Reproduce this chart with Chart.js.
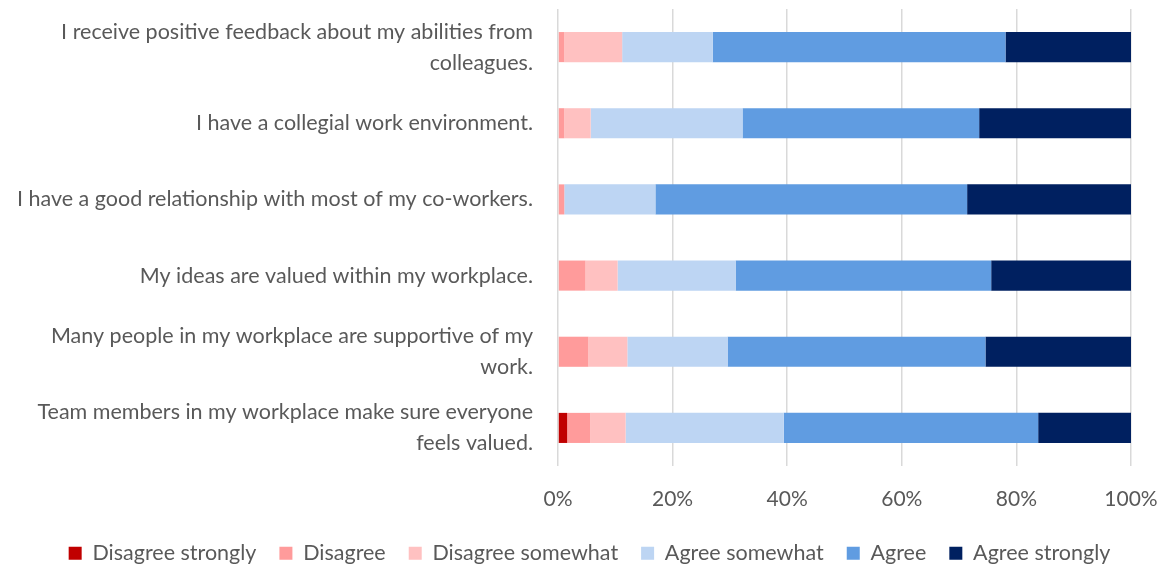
<!DOCTYPE html>
<html>
<head>
<meta charset="utf-8">
<script src="https://cdn.jsdelivr.net/npm/chart.js@4/dist/chart.umd.min.js"></script>
<style>
  html, body { margin: 0; padding: 0; background: #fff; }
  #chartArea { width: 1166px; height: 567px; }
</style>
</head>
<body>
<div id="chartArea"><canvas id="chartWork"></canvas></div>
<script>
const statements = [
  ['I receive positive feedback about my abilities from', 'colleagues.'],
  'I have a collegial work environment.',
  'I have a good relationship with most of my co-workers.',
  'My ideas are valued within my workplace.',
  ['Many people in my workplace are supportive of my', 'work.'],
  ['Team members in my workplace make sure everyone', 'feels valued.'],
];

// share of answers per statement, in percent
const disagreeStrongly = [0, 0, 0, 0, 0, 1.6];
const disagree = [1.1, 1.1, 1.1, 4.8, 5.3, 4.0];
const disagreeSomewhat = [10.1, 4.6, 0, 5.6, 6.8, 6.2];
const agreeSomewhat = [15.8, 26.5, 15.9, 20.6, 17.5, 27.6];
const agree = [51.1, 41.3, 54.4, 44.6, 45.0, 44.4];
const agreeStrongly = [21.9, 26.5, 28.6, 24.4, 25.4, 16.2];

const xTicks = [0, 20, 40, 60, 80, 100];

const fontFamily = 'Lato, "Noto Sans", sans-serif';
const textColor = '#595959';

function makeSet(label, data, color) {
  return {
    label: label,
    data: data,
    backgroundColor: color,
    borderWidth: 0,
    barPercentage: 0.79,
    categoryPercentage: 0.5,
  };
}

// nudge the legend row a bit to the right, under the bars
const legendShift = {
  id: 'legendShift',
  afterLayout(chart) {
    chart.legend.left += 24;
    chart.legend.right += 24;
  },
};

const ctx = document.getElementById('chartWork').getContext('2d');
const chartWork = new Chart(ctx, {
  type: 'bar',
  data: {
    labels: statements,
    datasets: [
      makeSet('Disagree strongly', disagreeStrongly, '#C00000'),
      makeSet('Disagree', disagree, '#FF9B9B'),
      makeSet('Disagree somewhat', disagreeSomewhat, '#FFC1C1'),
      makeSet('Agree somewhat', agreeSomewhat, '#BDD5F3'),
      makeSet('Agree', agree, '#609CE1'),
      makeSet('Agree strongly', agreeStrongly, '#002060'),
    ],
  },
  plugins: [legendShift],
  options: {
    indexAxis: 'y',
    responsive: true,
    maintainAspectRatio: false,
    animation: false,
    layout: {
      padding: { left: 0, right: 35, top: 9, bottom: -7 },
    },
    plugins: {
      tooltip: { enabled: false },
      legend: {
        position: 'bottom',
        labels: {
          boxWidth: 13,
          boxHeight: 13,
          padding: 23,
          color: textColor,
          font: { family: fontFamily, size: 21.5 },
        },
      },
    },
    scales: {
      x: {
        stacked: true,
        min: 0,
        max: 100,
        afterBuildTicks: (axis) => {
          axis.ticks = xTicks.map((v) => ({ value: v }));
        },
        afterFit: (axis) => {
          axis.height = 53.5;
          // labels may hang past the plot edges
          axis.paddingLeft = 0;
          axis.paddingRight = 0;
        },
        border: { display: false },
        grid: {
          color: '#D9D9D9',
          lineWidth: 1.5,
          drawTicks: false,
        },
        ticks: {
          padding: 21,
          color: textColor,
          font: { family: fontFamily, size: 21 },
          callback: (v) => v + '%',
        },
      },
      y: {
        stacked: true,
        afterFit: (axis) => {
          axis.width = 558;
          axis.paddingTop = 0;
          axis.paddingBottom = 0;
        },
        border: { display: false },
        grid: { display: false, drawTicks: false },
        ticks: {
          padding: 25,
          color: textColor,
          font: { family: fontFamily, size: 21.5, lineHeight: 1.44 },
        },
      },
    },
  },
});
</script>
</body>
</html>
